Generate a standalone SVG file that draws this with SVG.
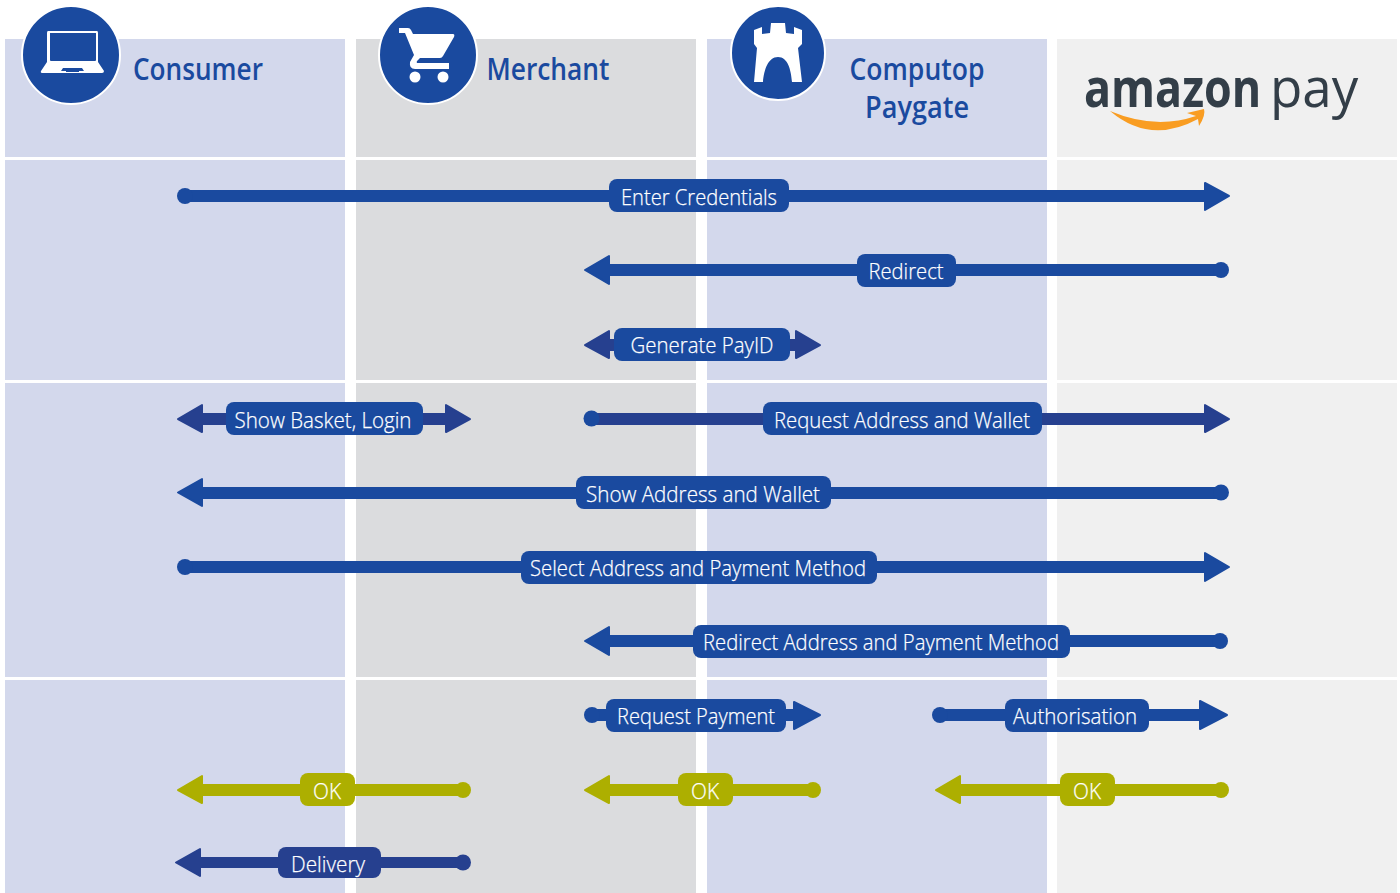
<svg xmlns="http://www.w3.org/2000/svg" width="1400" height="893" viewBox="0 0 1400 893">
<style>
.a{fill:#d3d8ec}.g{fill:#dbdcde}.l{fill:#f0f0f0}
.t{font-family:"Open Sans","Noto Sans",sans-serif;font-size:22px;font-weight:300;fill:#fff;stroke:#fff;stroke-width:.25px;text-anchor:middle}
.h{font-family:"Open Sans","Noto Sans",sans-serif;font-size:30px;font-weight:600;fill:#1a4a9f;text-anchor:middle}
.b{fill:#1a4a9f}.d{fill:#26408f}.o{fill:#adaf00}
.ic{fill:#fff}
.r path{stroke-width:2;stroke-linejoin:round}
.b.r path{stroke:#1a4a9f}.d.r path{stroke:#26408f}.o.r path{stroke:#adaf00}
</style>
<rect width="1400" height="893" fill="#fff"/>
<g id="panels">
<rect class="a" x="5" y="39" width="340" height="118"/><rect class="g" x="356" y="39" width="340" height="118"/><rect class="a" x="707" y="39" width="340" height="118"/><rect class="l" x="1057" y="39" width="340" height="118"/>
<rect class="a" x="5" y="160" width="340" height="220"/><rect class="g" x="356" y="160" width="340" height="220"/><rect class="a" x="707" y="160" width="340" height="220"/><rect class="l" x="1057" y="160" width="340" height="220"/>
<rect class="a" x="5" y="383" width="340" height="294"/><rect class="g" x="356" y="383" width="340" height="294"/><rect class="a" x="707" y="383" width="340" height="294"/><rect class="l" x="1057" y="383" width="340" height="294"/>
<rect class="a" x="5" y="680" width="340" height="213"/><rect class="g" x="356" y="680" width="340" height="213"/><rect class="a" x="707" y="680" width="340" height="213"/><rect class="l" x="1057" y="680" width="340" height="213"/>
</g>
<g id="consumer">
<circle cx="71" cy="55" r="49" class="b" stroke="#fff" stroke-width="2"/>
<path class="ic" fill-rule="evenodd" d="M48 31H97Q98 31 98 33V62L104 71Q104 73 102 73H43Q40 73 41 71L47 62V33Q47 31 48 31ZM50 33V60Q50 61 51 61H95Q96 61 96 60V33ZM63 68 61 71H84L82 68Z"/>
<rect x="66" y="70" width="13" height="2" class="b"/>
<text class="h" x="198" y="80" textLength="130" lengthAdjust="spacingAndGlyphs">Consumer</text>
</g>
<g id="merchant">
<circle cx="428" cy="55" r="49" class="b" stroke="#fff" stroke-width="2"/>
<path class="ic" d="M399 28H408Q410 28 411 30L413 34H453Q455 34 454 37L443 56Q442 58 440 58H420L417 61Q416 63 418 63H449V69H415Q409 69 410 62L414 55L405 33H399Z"/>
<circle cx="415" cy="77" r="5.500" class="ic"/><circle cx="443" cy="77" r="5.500" class="ic"/>
<text class="h" x="548" y="80" textLength="123" lengthAdjust="spacingAndGlyphs">Merchant</text>
</g>
<g id="computop">
<ellipse cx="778" cy="53" rx="47" ry="47" class="b" stroke="#fff" stroke-width="2"/>
<path class="ic" d="M754 30 762 27V34L770 33 771 23H785L786 33 794 34V27L802 30V44L798 48 802 82H792C791 70 788 57 778 57 768 57 764 70 763 82H754L757 48 754 44Z"/>
<text class="h" x="917" y="80" textLength="135" lengthAdjust="spacingAndGlyphs">Computop</text>
<text class="h" x="917" y="118" textLength="104" lengthAdjust="spacingAndGlyphs">Paygate</text>
</g>
<g id="amazonpay">
<text transform="translate(1084 107) scale(.83 1)" font-family="'Open Sans','Noto Sans',sans-serif" font-size="54" font-weight="700" fill="#333e48">amazon</text>
<text transform="translate(1270 107) scale(.98 1)" font-family="'Open Sans','Noto Sans',sans-serif" font-size="54" fill="#333e48">pay</text>
<path d="M1110 111Q1155 130 1196 116L1187 113 1204 109Q1206 115 1199 126L1198 119Q1150 145 1110 111Z" fill="#f99d22"/>
</g>
<g id="connectors">
<g class="b r">
<rect x="185" y="190" width="1030" height="12"/><circle cx="185" cy="196" r="8"/><path d="M1205 183V210L1229 196Z"/>
<rect x="600" y="264" width="620" height="12"/><circle cx="1221" cy="270" r="8"/><path d="M609 256V284L585 270Z"/>
<rect x="194" y="487" width="1030" height="12"/><circle cx="1221" cy="492.500" r="8"/><path d="M202 479V506L178 492.500Z"/>
<rect x="185" y="561" width="1030" height="12"/><circle cx="185" cy="567" r="8"/><path d="M1205 553V581L1229 567Z"/>
<rect x="600" y="635" width="620" height="12"/><circle cx="1220" cy="641" r="8"/><path d="M609 627V655L585 641Z"/>
<rect x="592" y="709" width="210" height="12"/><circle cx="592" cy="715" r="8"/><path d="M794 702V729L820 715Z"/>
<rect x="940" y="709" width="265" height="12"/><circle cx="940" cy="715" r="8"/><path d="M1200 701V729L1227 715Z"/>
</g>
<g class="d r">
<rect x="600" y="339" width="200" height="12"/><path d="M609 331V358L585 345Z"/><path d="M796 331V358L820 345Z"/>
<rect x="190" y="413" width="265" height="12"/><path d="M202 405V432L178 419Z"/><path d="M446 405V432L470 419Z"/>
<rect x="592" y="413" width="620" height="12"/><path d="M1205 405V432L1229 419Z"/>
<rect x="190" y="857" width="273" height="11"/><circle cx="463" cy="862.500" r="8"/><path d="M200 849V876L176 862.500Z"/>
</g>
<circle cx="591.500" cy="418.500" r="8" class="b"/>
<g class="o r">
<rect x="190" y="784" width="273" height="12"/><circle cx="463" cy="790" r="8"/><path d="M202 776V803L178 790Z"/>
<rect x="600" y="784" width="213" height="12"/><circle cx="813" cy="790" r="8"/><path d="M609 776V803L585 790Z"/>
<rect x="950" y="784" width="271" height="12"/><circle cx="1221" cy="790" r="8"/><path d="M960 776V803L936 790Z"/>
</g>
</g>
<g id="labels">
<g id="l1"><rect class="b" x="609" y="179" width="180" height="33" rx="8"/><text class="t" x="699" y="205" textLength="156" lengthAdjust="spacingAndGlyphs">Enter Credentials</text></g>
<g id="l2"><rect class="b" x="857" y="254" width="99" height="33" rx="8"/><text class="t" x="906" y="279" textLength="75" lengthAdjust="spacingAndGlyphs">Redirect</text></g>
<g id="l3"><rect class="b" x="614" y="328" width="176" height="33" rx="8"/><text class="t" x="702" y="353" textLength="143" lengthAdjust="spacingAndGlyphs">Generate PayID</text></g>
<g id="l4"><rect class="b" x="226" y="402" width="197" height="33" rx="8"/><text class="t" x="323" y="428" textLength="177" lengthAdjust="spacingAndGlyphs">Show Basket, Login</text></g>
<g id="l5"><rect class="b" x="763" y="402" width="279" height="33" rx="8"/><text class="t" x="902" y="428" textLength="256" lengthAdjust="spacingAndGlyphs">Request Address and Wallet</text></g>
<g id="l6"><rect class="b" x="576" y="476" width="255" height="33" rx="8"/><text class="t" x="703" y="502" textLength="234" lengthAdjust="spacingAndGlyphs">Show Address and Wallet</text></g>
<g id="l7"><rect class="b" x="521" y="551" width="356" height="33" rx="8"/><text class="t" x="698" y="576" textLength="336" lengthAdjust="spacingAndGlyphs">Select Address and Payment Method</text></g>
<g id="l8"><rect class="b" x="693" y="625" width="377" height="33" rx="8"/><text class="t" x="881" y="650" textLength="356" lengthAdjust="spacingAndGlyphs">Redirect Address and Payment Method</text></g>
<g id="l9"><rect class="b" x="606" y="699" width="180" height="33" rx="8"/><text class="t" x="696" y="724" textLength="158" lengthAdjust="spacingAndGlyphs">Request Payment</text></g>
<g id="l10"><rect class="b" x="1005" y="699" width="144" height="33" rx="8"/><text class="t" x="1075" y="724" textLength="124" lengthAdjust="spacingAndGlyphs">Authorisation</text></g>
<g id="l11"><rect class="o" x="300" y="773" width="55" height="33" rx="8"/><text class="t" x="327" y="799" textLength="28" lengthAdjust="spacingAndGlyphs">OK</text></g>
<g id="l12"><rect class="o" x="678" y="773" width="55" height="33" rx="8"/><text class="t" x="705" y="799" textLength="28" lengthAdjust="spacingAndGlyphs">OK</text></g>
<g id="l13"><rect class="o" x="1060" y="773" width="55" height="33" rx="8"/><text class="t" x="1087" y="799" textLength="28" lengthAdjust="spacingAndGlyphs">OK</text></g>
<g id="l14"><rect class="d" x="278" y="847" width="103" height="31" rx="8"/><text class="t" x="328" y="872" textLength="74" lengthAdjust="spacingAndGlyphs">Delivery</text></g>
</g>
</svg>
